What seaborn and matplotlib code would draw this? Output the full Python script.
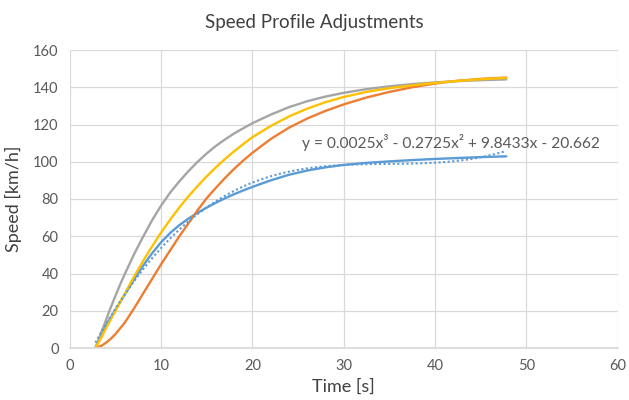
import pandas as pd
import matplotlib.pyplot as plt
import seaborn as sns
import numpy as np

# time axis shared by all four speed profiles [s]
time_s = [2.8, 3.5, 4, 4.5, 5, 5.5, 6, 7, 8, 9, 10, 11, 12, 13, 14, 15, 16,
          17, 18, 19, 20, 22, 24, 26, 28, 30, 32.5, 35, 37.5, 40, 42.5, 45, 47.8]

# speed profiles [km/h]
speed_blue = [0, 8, 12.5, 16.5, 20.5, 24.5, 28.5, 36.5, 44, 50.8, 56.8, 61.8,
              66, 69.5, 72.6, 75.4, 78, 80.4, 82.6, 84.6, 86.5, 90, 93, 95.3,
              97, 98.3, 99.4, 100.2, 100.9, 101.5, 102, 102.5, 102.9]
speed_orange = [0, 1.3, 3, 5, 7.5, 10.5, 13.5, 21, 29, 37, 45, 52.5, 60,
                67, 74, 80.5, 86, 91.3, 96.2, 100.7, 104.8, 112.2, 118.3, 123.2,
                127.3, 130.8, 134.5, 137.5, 140, 142, 143.5, 144.5, 145.2]
speed_gray = [0, 9, 15.5, 22, 28, 34, 39.5, 50, 59.5, 68.5, 76.5, 83.5, 89.5,
              95, 100, 104.5, 108.5, 112, 115.2, 118, 120.7, 125.3, 129.3,
              132.5, 135, 137, 139, 140.5, 141.7, 142.6, 143.3, 143.8, 144.2]
speed_yellow = [0, 6, 11, 15.5, 20, 24.5, 29, 38, 46.5, 54.5, 62, 69, 75.5,
                81.5, 87, 92.2, 97, 101.5, 105.6, 109.5, 113.2, 119.2, 124.3,
                128.5, 132, 134.8, 137.5, 139.5, 141, 142.3, 143.4, 144.3, 145]

series_names = ["Profile 1", "Profile 2", "Profile 3", "Profile 4"]
series_colors = ["#5B9BD5", "#ED7D31", "#A5A5A5", "#FFC000"]

x_ticks = [0, 10, 20, 30, 40, 50, 60]
y_ticks = [0, 20, 40, 60, 80, 100, 120, 140, 160]

trend_label = "y = 0.0025x³ - 0.2725x² + 9.8433x - 20.662"


def build_frame():
    frames = []
    for name, vals in zip(series_names,
                          [speed_blue, speed_orange, speed_gray, speed_yellow]):
        frames.append(pd.DataFrame({"Time": time_s, "Speed": vals, "series": name}))
    return pd.concat(frames, ignore_index=True)


def main():
    sns.set_theme(style="whitegrid")
    plt.rcParams["font.family"] = ["Lato", "DejaVu Sans"]

    df = build_frame()
    fig, ax = plt.subplots(figsize=(6.29, 4.0), dpi=100)
    fig.subplots_adjust(left=0.111, right=0.982, bottom=0.13, top=0.875)

    sns.lineplot(data=df, x="Time", y="Speed", hue="series", hue_order=series_names,
                 palette=dict(zip(series_names, series_colors)), sort=False,
                 estimator=None, linewidth=1.7, legend=False, ax=ax)

    # cubic trendline fitted to the blue profile (as Excel does)
    coeffs = np.polyfit(time_s, speed_blue, 3)
    t_fit = np.linspace(time_s[0], time_s[-1] - 0.2, 200)
    ax.plot(t_fit, np.polyval(coeffs, t_fit), color="#5B9BD5",
            linestyle=(0, (1, 1.2)), linewidth=1.5)

    ax.text(25.4, 110.5, trend_label, fontsize=11.2, color="#595959",
            ha="left", va="center")

    ax.set_xlim(0, 60)
    ax.set_ylim(0, 160)
    ax.set_xticks(x_ticks)
    ax.set_yticks(y_ticks)
    ax.grid(True, color="#D9D9D9", linewidth=0.9)
    for side in ["left", "right", "top"]:
        ax.spines[side].set_visible(False)
    ax.spines["bottom"].set_color("#D9D9D9")
    ax.tick_params(axis="both", length=0, labelsize=10.5, colors="#595959")
    ax.tick_params(axis="x", pad=8)
    ax.tick_params(axis="y", pad=8)

    ax.set_xlabel("Time [s]", fontsize=13, color="#404040", labelpad=4)
    ax.set_ylabel("Speed [km/h]", fontsize=13, color="#404040", labelpad=8)
    fig.suptitle("Speed Profile Adjustments", fontsize=13.5, color="#404040", y=0.965)

    fig.savefig("out.png", dpi=100)
    plt.close(fig)


if __name__ == "__main__":
    main()
